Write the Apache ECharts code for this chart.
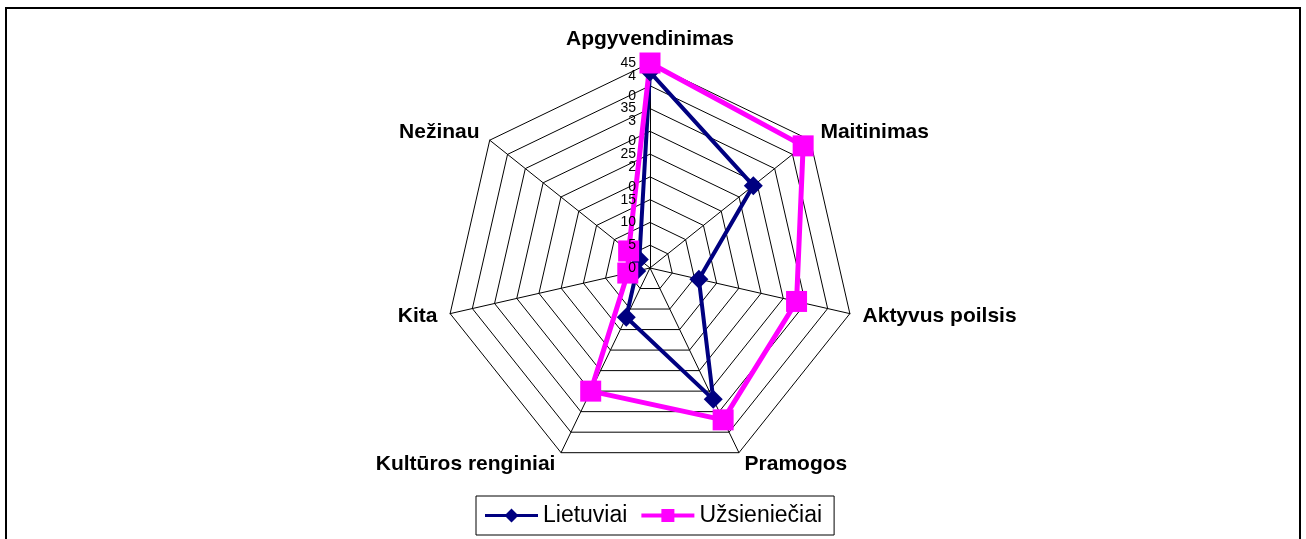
<!DOCTYPE html>
<html>
<head>
<meta charset="utf-8">
<script src="https://cdn.jsdelivr.net/npm/echarts@6/dist/echarts.min.js"></script>
<style>
  html, body { margin: 0; padding: 0; background: #fff; overflow: hidden; }
  #chart { width: 1306px; height: 539px; }
  .frame { position: absolute; left: 5px; top: 7px; width: 1292px; height: 600px; border: 2px solid #000; pointer-events: none; }
</style>
</head>
<body>
<div id="chart"></div>
<div class="frame"></div>
<script>
// categories clockwise from top, as in the original
const categories = ['Apgyvendinimas', 'Maitinimas', 'Aktyvus poilsis', 'Pramogos', 'Kultūros renginiai', 'Kita', 'Nežinau']
const lietuviai = [43, 29, 11, 32, 12, 3, 3]
const uzsienieciai = [45, 43, 33, 37, 30, 5, 6]
// labels on the value axis (0..45 step 5), some wrapped like in the original
const tickLabels = ['0', '5', '10', '15', '2\n0', '25', '3\n0', '35', '4\n0', '45']
const axisMax = 45

// echarts draws indicators counter-clockwise, so keep the first one and reverse the rest
const order = [0].concat(categories.map((c, i) => i).slice(1).reverse())
const pick = arr => order.map(i => arr[i])

const myChart = echarts.init(document.getElementById('chart'))
const font = 'Liberation Sans, Arial, sans-serif'

// legend icons: thin line with the marker in the middle
const diamondIcon = 'path://M0,5.5 L21,5.5 L26.5,0 L32,5.5 L53,5.5 L53,8.5 L32,8.5 L26.5,14 L21,8.5 L0,8.5 Z'
const squareIcon = 'path://M0,5 L20,5 L20,0.5 L33,0.5 L33,5 L53,5 L53,9 L33,9 L33,13.5 L20,13.5 L20,9 L0,9 Z'

const baseRadar = {
  center: [650, 268],
  radius: 205,
  startAngle: 90,
  shape: 'polygon',
  splitNumber: 9
}

// a radar with only value labels, drawn above the series; keep() picks which labels it shows
function labelRadar(keep) {
  return Object.assign({}, baseRadar, {
    z: 10,
    splitArea: { show: false },
    splitLine: { show: false },
    axisLine: { show: false },
    axisTick: { show: false },
    axisName: { show: false },
    axisLabel: { show: false },
    indicator: pick(categories).map((name, i) => {
      const ind = { name: name, min: 0, max: axisMax }
      if (i === 0) {
        ind.axisLabel = {
          show: true,
          color: '#000',
          fontSize: 14,
          lineHeight: 20,
          margin: 14,
          fontFamily: font,
          formatter: v => {
            const k = Math.round(v / 5)
            return keep(k) ? tickLabels[k] : ''
          }
        }
      }
      return ind
    })
  })
}

const option = {
  animation: false,
  textStyle: { fontFamily: font },
  legend: {
    left: 476,
    top: 496,
    orient: 'horizontal',
    borderColor: '#000',
    borderWidth: 1,
    padding: [8, 12, 8, 9],
    itemWidth: 53,
    itemHeight: 14,
    itemGap: 14,
    textStyle: { fontSize: 23, color: '#000', fontFamily: font },
    data: [
      { name: 'Lietuviai', icon: diamondIcon },
      { name: 'Užsieniečiai', icon: squareIcon }
    ]
  },
  radar: [
    Object.assign({}, baseRadar, {
      nameGap: 13,
      axisName: { color: '#000', fontSize: 21, fontWeight: 'bold', fontFamily: font },
      splitArea: { show: false },
      splitLine: { lineStyle: { color: '#000', width: 1 } },
      axisLine: { lineStyle: { color: '#000', width: 1 } },
      axisTick: { show: false },
      axisLabel: { show: false },
      indicator: pick(categories).map(name => ({ name: name, min: 0, max: axisMax }))
    }),
    labelRadar(k => k < tickLabels.length - 1),
    labelRadar(k => k === tickLabels.length - 1)
  ],
  series: [{
    type: 'radar',
    radarIndex: 0,
    data: [
      {
        name: 'Lietuviai',
        value: pick(lietuviai),
        symbol: 'diamond',
        symbolSize: 19,
        lineStyle: { color: '#000080', width: 4 },
        itemStyle: { color: '#000080' }
      },
      {
        name: 'Užsieniečiai',
        value: pick(uzsienieciai),
        symbol: 'rect',
        symbolSize: 21,
        lineStyle: { color: '#ff00ff', width: 5 },
        itemStyle: { color: '#ff00ff' }
      }
    ]
  }]
}
option && myChart.setOption(option)
</script>
</body>
</html>
